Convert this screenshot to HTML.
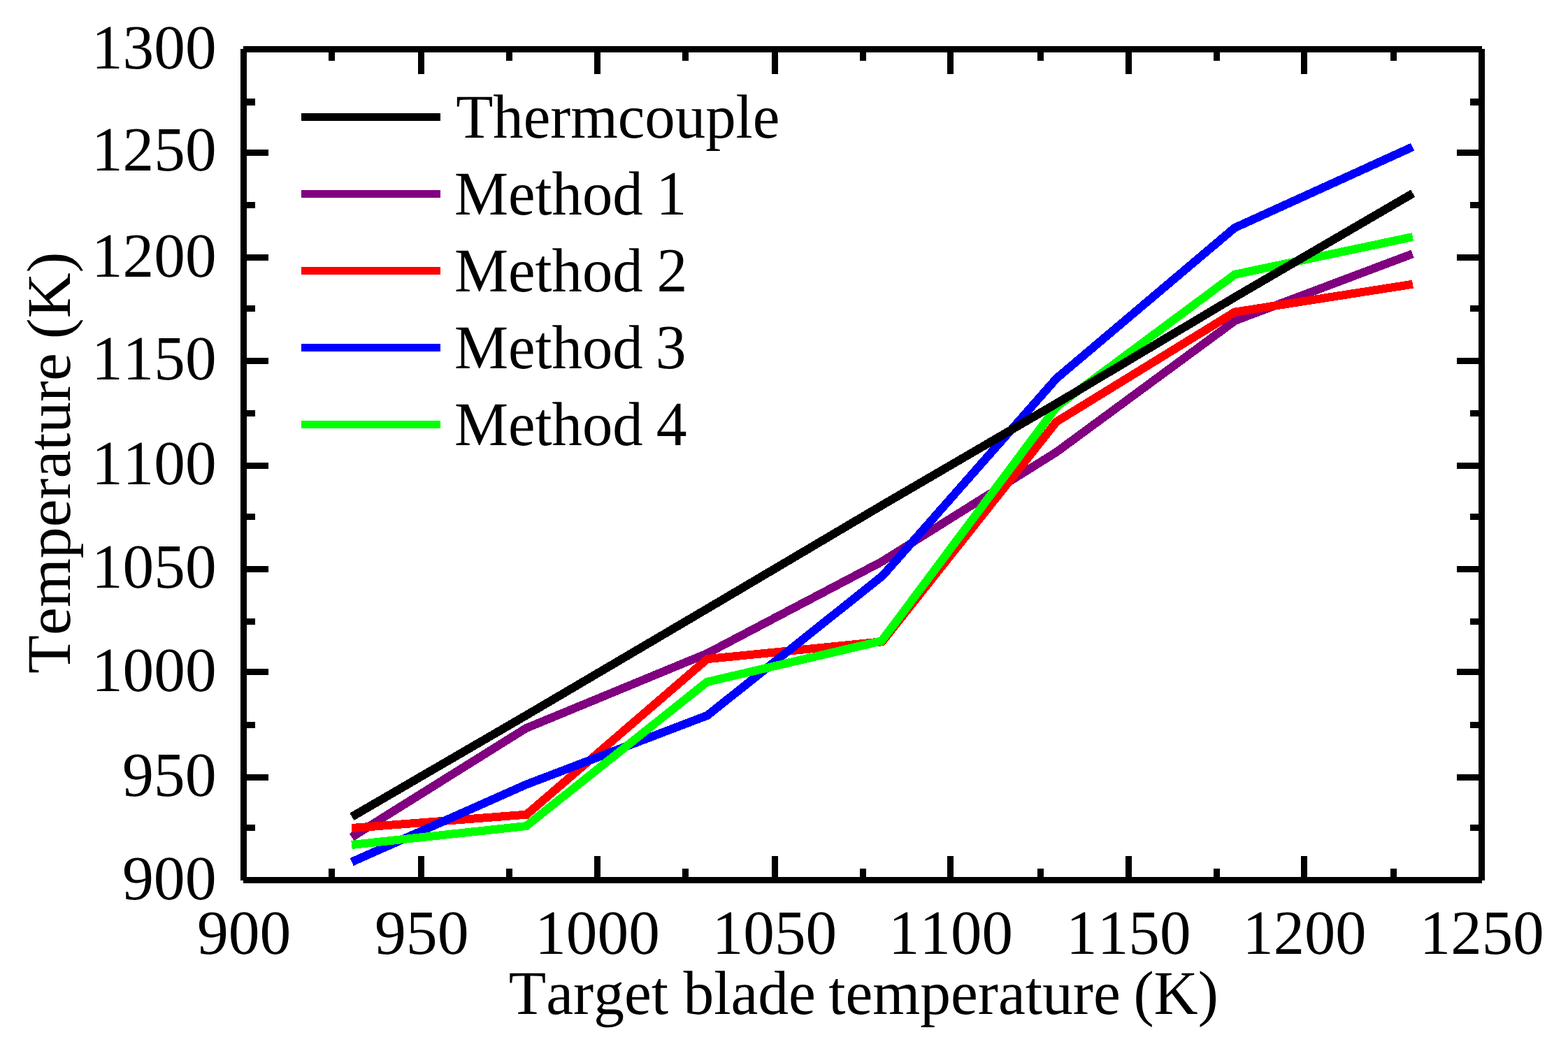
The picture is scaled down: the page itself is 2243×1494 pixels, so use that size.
<!DOCTYPE html>
<html lang="en">
<head>
<meta charset="utf-8">
<title>Temperature vs target blade temperature</title>
<style>
html,body{margin:0;padding:0;background:#fff;}
body{width:2243px;height:1494px;overflow:hidden;}
svg{display:block;}
</style>
</head>
<body>
<svg width="2243" height="1494" viewBox="0 0 2243 1494">
<rect x="0" y="0" width="2243" height="1494" fill="#fff"/>
<g fill="none" stroke-linejoin="miter" stroke-linecap="butt" stroke-miterlimit="10" shape-rendering="crispEdges">
<polyline points="503.1,1198.1 752.6,1042.1 1011.5,935.2 1261.5,803.7 1511.4,646.8 1766.8,458.9 2020.6,363.3" stroke="#800080" stroke-width="12.0"/>
<polyline points="503.0,1185.0 753.2,1165.7 1011.6,943.1 1261.9,918.3 1511.4,603.4 1766.3,446.6 2021.0,406.7" stroke="#ff0000" stroke-width="12.0"/>
<polyline points="503.2,1233.5 753.0,1122.6 1011.9,1023.8 1262.5,824.0 1511.4,541.4 1766.1,326.1 2020.6,210.3" stroke="#0000ff" stroke-width="12.0"/>
<polyline points="503.0,1209.0 752.7,1182.1 1011.4,975.9 1261.1,917.3 1511.4,582.0 1766.3,392.8 2020.9,339.0" stroke="#00ff00" stroke-width="12.0"/>
<polyline points="503.4,1168.8 753.0,1023.5 1011.5,871.2 1261.5,723.2 1511.4,577.3 1766.3,425.3 2021.2,276.7" stroke="#000000" stroke-width="12.0"/>
</g>
<g shape-rendering="crispEdges">
<rect x="344" y="70" width="9" height="1190" fill="#000"/>
<rect x="2115" y="70" width="9" height="1190" fill="#000"/>
<rect x="348" y="66" width="1772" height="9" fill="#000"/>
<rect x="348" y="1255" width="1772" height="9" fill="#000"/>
<rect x="353" y="141" width="12" height="10" fill="#000"/>
<rect x="2103" y="141" width="12" height="10" fill="#000"/>
<rect x="353" y="214" width="31" height="9" fill="#000"/>
<rect x="2084" y="214" width="31" height="9" fill="#000"/>
<rect x="353" y="289" width="12" height="9" fill="#000"/>
<rect x="2103" y="289" width="12" height="9" fill="#000"/>
<rect x="353" y="364" width="31" height="9" fill="#000"/>
<rect x="2084" y="364" width="31" height="9" fill="#000"/>
<rect x="353" y="437" width="12" height="9" fill="#000"/>
<rect x="2103" y="437" width="12" height="9" fill="#000"/>
<rect x="353" y="512" width="31" height="9" fill="#000"/>
<rect x="2084" y="512" width="31" height="9" fill="#000"/>
<rect x="353" y="587" width="12" height="9" fill="#000"/>
<rect x="2103" y="587" width="12" height="9" fill="#000"/>
<rect x="353" y="662" width="31" height="9" fill="#000"/>
<rect x="2084" y="662" width="31" height="9" fill="#000"/>
<rect x="353" y="735" width="12" height="9" fill="#000"/>
<rect x="2103" y="735" width="12" height="9" fill="#000"/>
<rect x="353" y="810" width="31" height="9" fill="#000"/>
<rect x="2084" y="810" width="31" height="9" fill="#000"/>
<rect x="353" y="885" width="12" height="9" fill="#000"/>
<rect x="2103" y="885" width="12" height="9" fill="#000"/>
<rect x="353" y="957" width="31" height="9" fill="#000"/>
<rect x="2084" y="957" width="31" height="9" fill="#000"/>
<rect x="353" y="1033" width="12" height="9" fill="#000"/>
<rect x="2103" y="1033" width="12" height="9" fill="#000"/>
<rect x="353" y="1108" width="31" height="9" fill="#000"/>
<rect x="2084" y="1108" width="31" height="9" fill="#000"/>
<rect x="353" y="1180" width="12" height="9" fill="#000"/>
<rect x="2103" y="1180" width="12" height="9" fill="#000"/>
<rect x="470" y="75" width="9" height="12" fill="#000"/>
<rect x="470" y="1243" width="9" height="12" fill="#000"/>
<rect x="598" y="75" width="9" height="31" fill="#000"/>
<rect x="598" y="1225" width="9" height="30" fill="#000"/>
<rect x="724" y="75" width="9" height="12" fill="#000"/>
<rect x="724" y="1243" width="9" height="12" fill="#000"/>
<rect x="850" y="75" width="9" height="31" fill="#000"/>
<rect x="850" y="1225" width="9" height="30" fill="#000"/>
<rect x="976" y="75" width="9" height="12" fill="#000"/>
<rect x="976" y="1243" width="9" height="12" fill="#000"/>
<rect x="1104" y="75" width="9" height="31" fill="#000"/>
<rect x="1104" y="1225" width="9" height="30" fill="#000"/>
<rect x="1230" y="75" width="9" height="12" fill="#000"/>
<rect x="1230" y="1243" width="9" height="12" fill="#000"/>
<rect x="1355" y="75" width="9" height="31" fill="#000"/>
<rect x="1355" y="1225" width="9" height="30" fill="#000"/>
<rect x="1484" y="75" width="9" height="12" fill="#000"/>
<rect x="1484" y="1243" width="9" height="12" fill="#000"/>
<rect x="1610" y="75" width="9" height="31" fill="#000"/>
<rect x="1610" y="1225" width="9" height="30" fill="#000"/>
<rect x="1736" y="75" width="9" height="12" fill="#000"/>
<rect x="1736" y="1243" width="9" height="12" fill="#000"/>
<rect x="1861" y="75" width="9" height="31" fill="#000"/>
<rect x="1861" y="1225" width="9" height="30" fill="#000"/>
<rect x="1989" y="75" width="9" height="12" fill="#000"/>
<rect x="1989" y="1243" width="9" height="12" fill="#000"/>
<rect x="431" y="162" width="199" height="11" fill="#000000"/>
<rect x="431" y="272" width="199" height="11" fill="#800080"/>
<rect x="431" y="382" width="199" height="11" fill="#ff0000"/>
<rect x="431" y="492" width="199" height="11" fill="#0000ff"/>
<rect x="431" y="602" width="199" height="11" fill="#00ff00"/>
</g>
<g font-family="'Liberation Serif', 'Times New Roman', Times, serif" fill="#000" style="font-kerning:none" text-rendering="geometricPrecision">
<text transform="translate(130.94 98.00) scale(0.9925 1.0000)" font-size="90">1300</text>
<text transform="translate(130.94 244.40) scale(0.9925 1.0000)" font-size="90">1250</text>
<text transform="translate(130.94 395.50) scale(0.9925 1.0000)" font-size="90">1200</text>
<text transform="translate(130.94 542.70) scale(0.9925 1.0000)" font-size="90">1150</text>
<text transform="translate(130.94 693.40) scale(0.9925 1.0000)" font-size="90">1100</text>
<text transform="translate(130.94 840.70) scale(0.9925 1.0000)" font-size="90">1050</text>
<text transform="translate(130.94 988.60) scale(0.9925 1.0000)" font-size="90">1000</text>
<text transform="translate(174.93 1139.00) scale(0.9977 1.0000)" font-size="90">950</text>
<text transform="translate(174.93 1287.00) scale(0.9977 1.0000)" font-size="90">900</text>
<text transform="translate(281.93 1365.20) scale(0.9961 1.0000)" font-size="90">900</text>
<text transform="translate(535.93 1365.20) scale(0.9977 1.0000)" font-size="90">950</text>
<text transform="translate(765.14 1365.20) scale(0.9925 1.0000)" font-size="90">1000</text>
<text transform="translate(1018.75 1365.20) scale(0.9913 1.0000)" font-size="90">1050</text>
<text transform="translate(1271.07 1365.20) scale(0.9884 1.0000)" font-size="90">1100</text>
<text transform="translate(1525.04 1365.20) scale(0.9925 1.0000)" font-size="90">1150</text>
<text transform="translate(1777.41 1365.20) scale(0.9836 1.0000)" font-size="90">1200</text>
<text transform="translate(2030.87 1365.20) scale(0.9884 1.0000)" font-size="90">1250</text>
<text transform="translate(652.14 196.90) scale(0.9762 1)" font-size="89">Thermcouple</text>
<text transform="translate(649.89 306.80) scale(0.9743 1)" font-size="89">Method <tspan x="296.17" font-size="90">1</tspan></text>
<text transform="translate(649.89 416.90) scale(0.9743 1)" font-size="89">Method <tspan x="297.36" font-size="90">2</tspan></text>
<text transform="translate(649.89 526.80) scale(0.9743 1)" font-size="89">Method <tspan x="295.43" font-size="90">3</tspan></text>
<text transform="translate(649.89 637.00) scale(0.9743 1)" font-size="89">Method <tspan x="296.48" font-size="90">4</tspan></text>
<text transform="translate(727.86 1451.00) scale(0.9823 1)" font-size="89">Target <tspan x="254.11">blade </tspan><tspan x="465.65">temperature </tspan><tspan x="909.67">(K)</tspan></text>
<text transform="translate(100.00 963.75) rotate(-90) scale(1.0088 1)" font-size="89">Temperature <tspan x="474.35">(K)</tspan></text>
</g>
</svg>
</body>
</html>
